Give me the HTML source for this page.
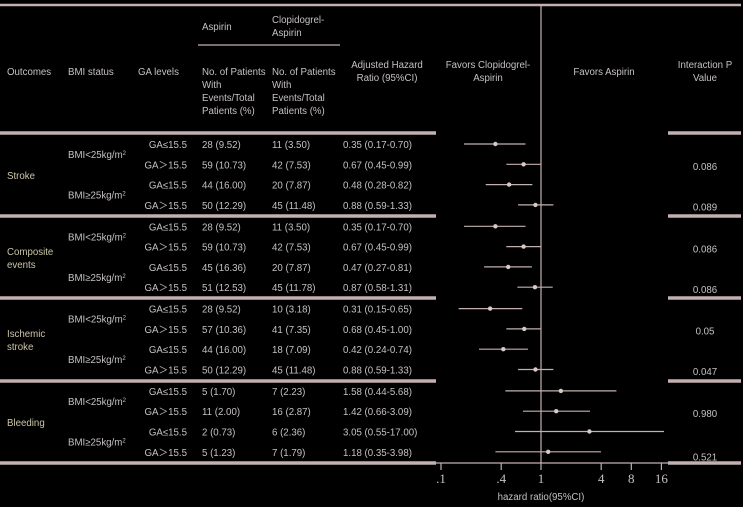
<!DOCTYPE html>
<html><head><meta charset="utf-8"><style>
html,body{margin:0;padding:0;background:#000;}
svg{display:block;}
text{font-family:"Liberation Sans","DejaVu Sans",sans-serif;font-size:9.7px;fill:#c6c1c1;}
text.lbl{fill:#cdc6a8;}
text.tick{font-family:"Liberation Serif","DejaVu Serif",serif;font-size:13px;}
</style></head><body>
<svg id="chart" width="743" height="507" viewBox="0 0 743 507">
<rect width="743" height="507" fill="#000"/>
<g id="static" fill="none" stroke="#c4b0b0">
<line x1="0" y1="5" x2="741" y2="5" stroke-width="2.5"/>
<line x1="198" y1="45" x2="340" y2="45" stroke-width="1.2"/>
<line x1="541" y1="5" x2="541" y2="463" stroke-width="1.2"/>
<line x1="435" y1="463" x2="670" y2="463" stroke-width="1.2"/>
</g>
<g>
<text x="202" y="30">Aspirin</text>
<text x="272" y="23">Clopidogrel-</text><text x="272" y="36">Aspirin</text>
<text x="7" y="75">Outcomes</text>
<text x="68" y="75">BMI status</text>
<text x="138" y="75">GA levels</text>
<text x="202" y="75">No. of Patients</text><text x="202" y="88">With</text><text x="202" y="101">Events/Total</text><text x="202" y="114">Patients (%)</text>
<text x="272" y="75">No. of Patients</text><text x="272" y="88">With</text><text x="272" y="101">Events/Total</text><text x="272" y="114">Patients (%)</text>
<text x="387" y="68" text-anchor="middle">Adjusted Hazard</text><text x="387" y="81" text-anchor="middle">Ratio (95%CI)</text>
<text x="488" y="68" text-anchor="middle">Favors Clopidogrel-</text><text x="488" y="81" text-anchor="middle">Aspirin</text>
<text x="604" y="75" text-anchor="middle">Favors Aspirin</text>
<text x="705" y="68" text-anchor="middle">Interaction P</text><text x="705" y="81" text-anchor="middle">Value</text>
</g>
<g id="rows"></g>
<g id="marks"></g>
<g id="axis"></g>
<text x="541" y="500" text-anchor="middle">hazard ratio(95%CI)</text>
</svg>
<script>
const outcomes = ["Stroke", "Composite|events", "Ischemic|stroke", "Bleeding"];
const gaLabels = ["GA≤15.5", "GA＞15.5", "GA≤15.5", "GA＞15.5"];
const aspirinN = ["28 (9.52)","59 (10.73)","44 (16.00)","50 (12.29)","28 (9.52)","59 (10.73)","45 (16.36)","51 (12.53)","28 (9.52)","57 (10.36)","44 (16.00)","50 (12.29)","5 (1.70)","11 (2.00)","2 (0.73)","5 (1.23)"];
const clopN = ["11 (3.50)","42 (7.53)","20 (7.87)","45 (11.48)","11 (3.50)","42 (7.53)","20 (7.87)","45 (11.78)","10 (3.18)","41 (7.35)","18 (7.09)","45 (11.48)","7 (2.23)","16 (2.87)","6 (2.36)","7 (1.79)"];
const hr = [0.35,0.67,0.48,0.88,0.35,0.67,0.47,0.87,0.31,0.68,0.42,0.88,1.58,1.42,3.05,1.18];
const lo = [0.17,0.45,0.28,0.59,0.17,0.45,0.27,0.58,0.15,0.45,0.24,0.59,0.44,0.66,0.55,0.35];
const hi = [0.70,0.99,0.82,1.33,0.70,0.99,0.81,1.31,0.65,1.00,0.74,1.33,5.68,3.09,17.00,3.98];
const pValues = ["0.086","0.089","0.086","0.086","0.05","0.047","0.980","0.521"];
const tickVals = [0.1,0.4,1,4,8,16];
const tickLabels = [".1",".4","1","4","8","16"];

const NS="http://www.w3.org/2000/svg";
const xs = v => 541 + 100*Math.log10(v);
const rowY = i => { const s=Math.floor(i/4), r=i%4; return 144 + s*82.3 + r*20.3; };
function mk(tag, attrs, parent, txt){ const e=document.createElementNS(NS,tag); for(const k in attrs) e.setAttribute(k,attrs[k]); if(txt!==undefined) e.textContent=txt; parent.appendChild(e); return e; }
const rows=document.getElementById('rows'), marks=document.getElementById('marks'), axis=document.getElementById('axis');
const fmt = v => v.toFixed(2);
[133,216,298,381,463].forEach((y,k)=>{
  const a=mk('line',{x1:0,y1:y,x2:436,y2:y,stroke:'#c4b0b0','stroke-width':3.5},rows);
  
  
  const b=mk('line',{x1:668,y1:y,x2:741,y2:y,stroke:'#c4b0b0','stroke-width':3.5},rows);
  
  
});
outcomes.forEach((o,s)=>{
  const parts=o.split('|'); const yc=rowY(s*4)+31;
  parts.forEach((p,j)=>{
    const t=mk('text',{x:7,y:yc+(j-(parts.length-1)/2)*13+4,class:'lbl'},rows,p);
    
    
  });
  [0,2].forEach(b=>{
    const t=mk('text',{x:68,y:rowY(s*4+b)+14},rows,b===0?'BMI<25kg/m':'BMI≥25kg/m');
    mk('tspan',{'font-size':'6','dy':'-3'},t,'2');
    
    
  });
  [0,1].forEach(k=>{
    const t=mk('text',{x:705,y:rowY(s*4+k*2)+26+k*(s===3?3:0),'text-anchor':'middle'},rows,pValues[s*2+k]);
    
    
  });
});
hr.forEach((v,i)=>{
  const y=rowY(i);
  const g=mk('text',{x:187,y:y+4,'text-anchor':'end'},rows,gaLabels[i%4]);
  
  
  const a=mk('text',{x:202,y:y+4},rows,aspirinN[i]);
  
  
  const c=mk('text',{x:272,y:y+4},rows,clopN[i]);
  
  
  const h=mk('text',{x:343,y:y+4},rows,fmt(v)+' ('+fmt(lo[i])+'-'+fmt(hi[i])+')');
  
  
  const l=mk('line',{x1:xs(lo[i]),y1:y,x2:xs(hi[i]),y2:y,stroke:'#c4b0b0','stroke-width':1.2},marks);
  
  
  const d=mk('circle',{cx:xs(v),cy:y,r:2.2,fill:'#d8c8c8'},marks);
  
  
});
tickVals.forEach((v,i)=>{
  const l=mk('line',{x1:xs(v),y1:463,x2:xs(v),y2:470,stroke:'#c4b0b0','stroke-width':1.2},axis);
  
  
  const t=mk('text',{x:xs(v),y:483,'text-anchor':'middle',class:'tick','font-family':'Liberation Serif, serif','font-size':'13'},axis,tickLabels[i]);
  
  
});
</script>
</body></html>
